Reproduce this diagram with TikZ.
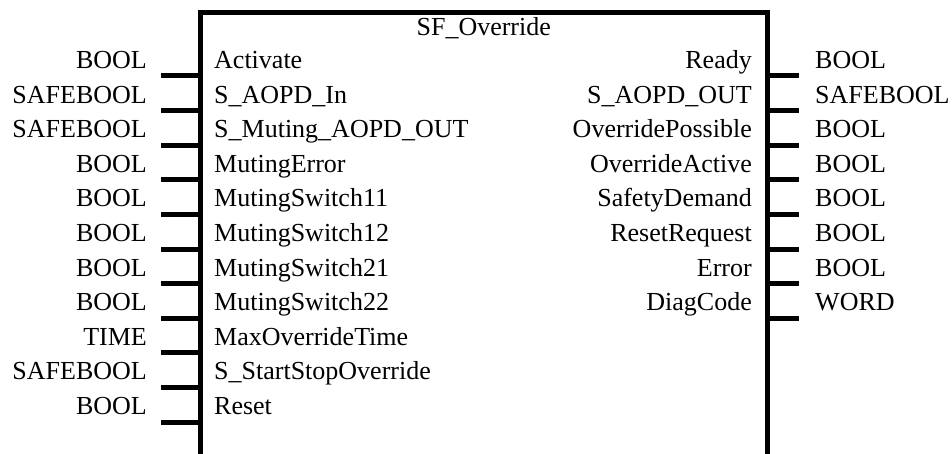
\documentclass[tikz,border=0pt]{standalone}
\usepackage{fontspec}
\setmainfont{Liberation Serif}
\begin{document}
\begin{tikzpicture}[x=1pt,y=-1pt,
  lbl/.style={inner sep=0pt,font=\fontsize{26}{26}\selectfont},
  typeL/.style={lbl,anchor=base east},
  typeR/.style={lbl,anchor=base west},
  pinIn/.style={lbl,anchor=base west},
  pinOut/.style={lbl,anchor=base east},
  wire/.style={line width=5pt,line cap=butt}]
\useasboundingbox (0,0) rectangle (952,454);
% block frame (open at the bottom)
\coordinate (tl) at (200,10.5);
\coordinate (tr) at (767.5,10.5);
\draw[wire] (200,454) -- ([yshift=-2.5]tl) -- ([yshift=-2.5]tr) -- (767.5,454);
\node[lbl,anchor=base] (title) at (483.75,36) {SF\_Override};
% inputs
\foreach \i/\typ/\nm in {0/BOOL/Activate,1/SAFEBOOL/S\_AOPD\_In,2/SAFEBOOL/S\_Muting\_AOPD\_OUT,
  3/BOOL/MutingError,4/BOOL/MutingSwitch11,5/BOOL/MutingSwitch12,6/BOOL/MutingSwitch21,
  7/BOOL/MutingSwitch22,8/TIME/MaxOverrideTime,9/SAFEBOOL/S\_StartStopOverride,10/BOOL/Reset}{
  \pgfmathsetmacro\py{76+34.6*\i}
  \coordinate (in\i) at (200,\py);
  \coordinate (inend\i) at (161,\py);
  \draw[wire] (in\i) -- (inend\i);
  \node[typeL] (intype\i) at (147,\py-7.5) {\typ};
  \node[pinIn] (inname\i) at (214,\py-7.5) {\nm};
}
% outputs
\foreach \i/\typ/\nm in {0/BOOL/Ready,1/SAFEBOOL/S\_AOPD\_OUT,2/BOOL/OverridePossible,
  3/BOOL/OverrideActive,4/BOOL/SafetyDemand,5/BOOL/ResetRequest,6/BOOL/Error,7/WORD/DiagCode}{
  \pgfmathsetmacro\py{76+34.6*\i}
  \coordinate (out\i) at (767.5,\py);
  \coordinate (outend\i) at (799,\py);
  \draw[wire] (out\i) -- (outend\i);
  \node[typeR] (outtype\i) at (815,\py-7.5) {\typ};
  \node[pinOut] (outname\i) at (752,\py-7.5) {\nm};
}
\end{tikzpicture}
\end{document}
